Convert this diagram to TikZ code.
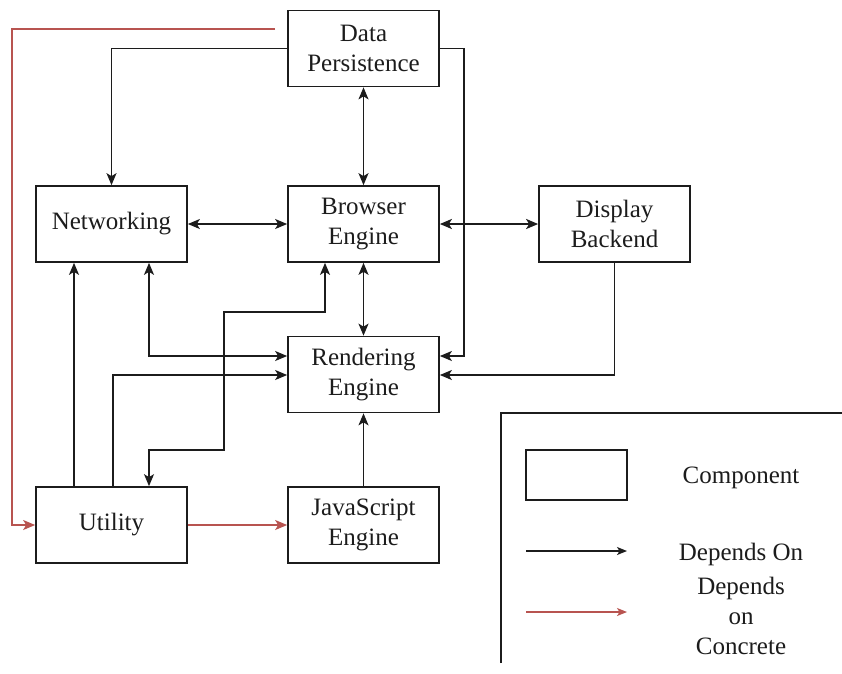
\documentclass[tikz,border=0pt]{standalone}
\usepackage{fontspec}
\setmainfont{Liberation Serif}
\usetikzlibrary{arrows.meta,calc}

\definecolor{ink}{HTML}{1C1C1C}
\definecolor{concrete}{HTML}{B85450}

\begin{document}
\begin{tikzpicture}[x=1pt,y=-1pt,
  >={Stealth[length=12pt,width=10pt,inset=3pt]},
  comp/.style={draw=ink, line width=1.7pt, minimum width=151pt, minimum height=76pt,
    inner sep=0pt, align=center, text=ink, font=\fontsize{25}{30}\selectfont},
  dep/.style={draw=ink, line width=1.5pt, ->},
  dep2/.style={draw=ink, line width=1.5pt, <->},
  conc/.style={draw=concrete, line width=1.5pt, ->},
  legendtext/.style={text=ink, align=center, font=\fontsize{25}{30}\selectfont},
  legendarrow/.style={line width=1.4pt, -{Stealth[length=10pt,width=8pt,inset=2.5pt]}}
]
\useasboundingbox (0,0) rectangle (842,673);

% components
\node[comp] (dp)  at (363.5, 48.5) {Data\\Persistence};
\node[comp] (net) at (111.5,224)   {Networking};
\node[comp] (be)  at (363.5,224)   {Browser\\Engine};
\node[comp] (db)  at (614.5,224)   {Display\\Backend};
\node[comp] (re)  at (363.5,374.5) {Rendering\\Engine};
\node[comp] (ut)  at (111.5,525)   {Utility};
\node[comp] (js)  at (363.5,525)   {JavaScript\\Engine};

% dependencies
\draw[dep]  (dp.west) -| (net.north);
\draw[dep2] (dp.south) -- (be.north);
\draw[dep]  (dp.east) -- (464,48.5) |- (re.east |- 0,356);
\draw[dep2] (net.east) -- (be.west);
\draw[dep2, line width=2.3pt] (be.east) -- (db.west);
\draw[dep2] (be.south) -- (re.north);
\draw[dep]  (db.south) |- (re.east |- 0,375);
\draw[dep2] (149,0 |- net.south) |- (re.west |- 0,356);
\draw[dep]  (113,0 |- ut.north) |- (re.west |- 0,375);
\draw[dep]  (74,0 |- ut.north) -- (74,0 |- net.south);
\draw[dep2] (325,0 |- be.south) |- (224,312) |- (149,450) -- (149,0 |- ut.north);
\draw[dep]  (js.north) -- (re.south);

% dependencies on concrete components
\coordinate (cstart) at (275,29);
\draw[conc] (cstart) -| (12,0 |- ut.west) -- (ut.west);
\draw[conc] (ut.east) -- (js.west);

% legend
\draw[ink, line width=1.6pt] (501,663) -- (501,413) -- (842,413);
\node[draw=ink, line width=1.6pt, minimum width=101pt, minimum height=50pt, inner sep=0pt]
  (lcomp) at (576.5,475) {};
\node[legendtext] (lcomptxt) at (741,478) {Component};
\coordinate (ldep1) at (526,551);
\coordinate (ldep2) at (627,551);
\draw[legendarrow, ink] (ldep1) -- (ldep2);
\node[legendtext] (ldeptxt) at (741,554) {Depends On};
\coordinate (lcon1) at (526,612);
\coordinate (lcon2) at (627,612);
\draw[legendarrow, concrete] (lcon1) -- (lcon2);
\node[legendtext] (lcontxt) at (741,616) {Depends\\on\\Concrete};
\end{tikzpicture}
\end{document}
